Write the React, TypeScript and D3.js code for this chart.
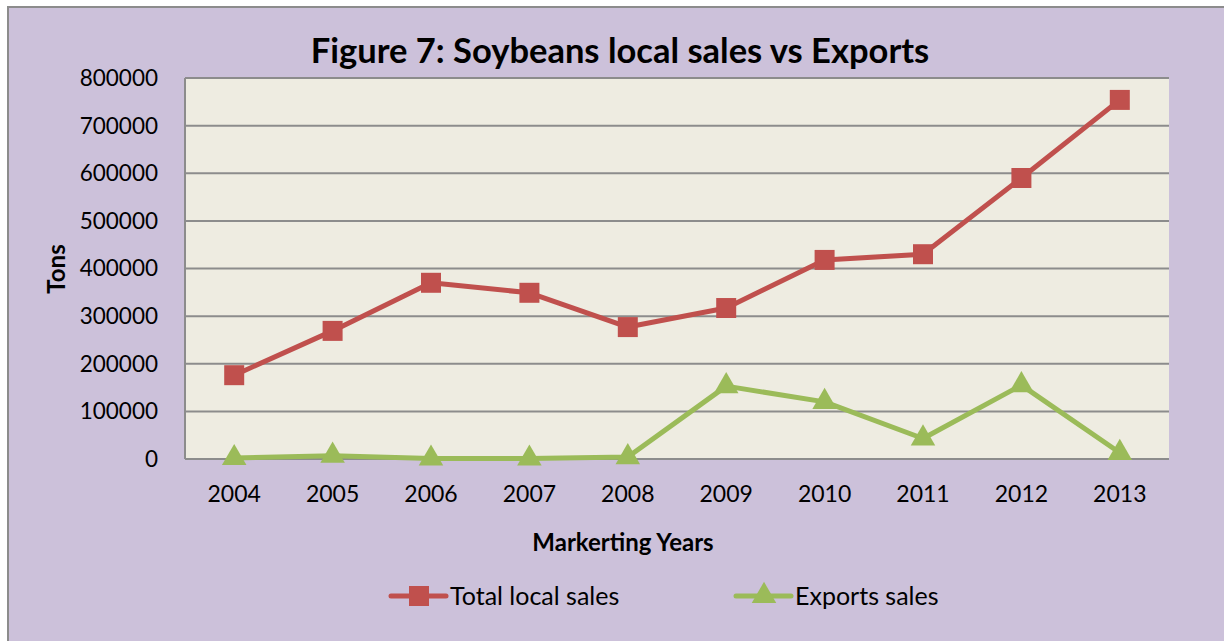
import React, { useEffect, useRef } from 'react';
import * as d3 from 'd3';

const years = ['2004', '2005', '2006', '2007', '2008', '2009', '2010', '2011', '2012', '2013'];
const localSales = [176000, 269000, 370000, 349000, 277000, 317000, 418000, 430000, 590000, 754000];
const exportSales = [2000, 7000, 1000, 1000, 4000, 153000, 120000, 43000, 155000, 13000];
const yTicks = [0, 100000, 200000, 300000, 400000, 500000, 600000, 700000, 800000];

const RED = '#C0504D';
const GREEN = '#9BBB59';
const FONT = 'Lato, "Open Sans", sans-serif';

const App = () => {
  const svgRef = useRef<SVGSVGElement>(null);

  useEffect(() => {
    if (!svgRef.current) return;
    const width = 1224;
    const height = 641;
    const svg = d3.select(svgRef.current);
    svg.selectAll('*').remove();

    // outer frame
    svg.append('rect')
      .attr('x', 8).attr('y', 7)
      .attr('width', width + 10).attr('height', height + 10)
      .attr('fill', '#CCC1DA')
      .attr('stroke', '#8C8C8C')
      .attr('stroke-width', 2);

    const left = 185, right = 1169, top = 78, bottom = 459;

    const x = d3.scaleBand().domain(years).range([left, right]);
    const y = d3.scaleLinear().domain([0, 800000]).range([bottom, top]);

    svg.append('rect')
      .attr('x', left).attr('y', top)
      .attr('width', right - left).attr('height', bottom - top)
      .attr('fill', '#EEECE1');

    // gridlines
    svg.append('g')
      .selectAll('line')
      .data(yTicks)
      .enter()
      .append('line')
      .attr('x1', left).attr('x2', right)
      .attr('y1', d => y(d)).attr('y2', d => y(d))
      .attr('stroke', '#8C8C8C')
      .attr('stroke-width', 2);

    svg.append('line')
      .attr('x1', left).attr('x2', left)
      .attr('y1', top).attr('y2', bottom)
      .attr('stroke', '#8C8C8C')
      .attr('stroke-width', 2);

    // y tick labels
    svg.append('g')
      .selectAll('text')
      .data(yTicks)
      .enter()
      .append('text')
      .attr('x', 158)
      .attr('y', d => y(d))
      .attr('dy', '0.35em')
      .attr('text-anchor', 'end')
      .attr('font-family', FONT)
      .attr('font-size', 22.5)
      .attr('fill', '#000')
      .text(d => String(d));

    // x tick labels
    svg.append('g')
      .selectAll('text')
      .data(years)
      .enter()
      .append('text')
      .attr('x', d => (x(d) as number) + x.bandwidth() / 2)
      .attr('y', 494)
      .attr('dy', '0.35em')
      .attr('text-anchor', 'middle')
      .attr('font-family', FONT)
      .attr('font-size', 23)
      .attr('fill', '#000')
      .text(d => d);

    const cx = (i: number) => (x(years[i]) as number) + x.bandwidth() / 2;

    const line = d3.line<number>()
      .x((d, i) => cx(i))
      .y(d => y(d));

    svg.append('path')
      .datum(localSales)
      .attr('d', line)
      .attr('fill', 'none')
      .attr('stroke', RED)
      .attr('stroke-width', 5)
      .attr('stroke-linejoin', 'round');

    svg.append('path')
      .datum(exportSales)
      .attr('d', line)
      .attr('fill', 'none')
      .attr('stroke', GREEN)
      .attr('stroke-width', 5)
      .attr('stroke-linejoin', 'round');

    const square = d3.symbol().type(d3.symbolSquare).size(400);
    const triangle = d3.symbol().type(d3.symbolTriangle).size(260);

    svg.append('g')
      .selectAll('path')
      .data(localSales)
      .enter()
      .append('path')
      .attr('d', square)
      .attr('transform', (d, i) => `translate(${cx(i)},${y(d)})`)
      .attr('fill', RED);

    svg.append('g')
      .selectAll('path')
      .data(exportSales)
      .enter()
      .append('path')
      .attr('d', triangle)
      .attr('transform', (d, i) => `translate(${cx(i)},${y(d)})`)
      .attr('fill', GREEN);

    // title
    svg.append('text')
      .attr('x', 620).attr('y', 51)
      .attr('dy', '0.35em')
      .attr('text-anchor', 'middle')
      .attr('font-family', FONT)
      .attr('font-weight', 'bold')
      .attr('font-size', 34.5)
      .attr('fill', '#000')
      .text('Figure 7: Soybeans local sales vs Exports');

    // axis titles
    svg.append('text')
      .attr('transform', 'translate(57,269) rotate(-90)')
      .attr('dy', '0.35em')
      .attr('text-anchor', 'middle')
      .attr('font-family', FONT)
      .attr('font-weight', 'bold')
      .attr('font-size', 24)
      .attr('fill', '#000')
      .text('Tons');

    svg.append('text')
      .attr('x', 623).attr('y', 543)
      .attr('dy', '0.35em')
      .attr('text-anchor', 'middle')
      .attr('font-family', FONT)
      .attr('font-weight', 'bold')
      .attr('font-size', 24)
      .attr('fill', '#000')
      .text('Markerting Years');

    // legend
    const legend = [
      { label: 'Total local sales', color: RED, sym: square, x0: 391 },
      { label: 'Exports sales', color: GREEN, sym: triangle, x0: 736 },
    ];
    const lg = svg.append('g');
    legend.forEach(l => {
      lg.append('line')
        .attr('x1', l.x0).attr('x2', l.x0 + 55)
        .attr('y1', 596).attr('y2', 596)
        .attr('stroke', l.color)
        .attr('stroke-width', 5)
        .attr('stroke-linecap', 'round');
      lg.append('path')
        .attr('d', l.sym)
        .attr('transform', `translate(${l.x0 + 28},596)`)
        .attr('fill', l.color);
      lg.append('text')
        .attr('x', l.x0 + 59).attr('y', 596)
        .attr('dy', '0.35em')
        .attr('font-family', FONT)
        .attr('font-size', 25)
        .attr('fill', '#000')
        .text(l.label);
    });
  }, []);

  return (
    <div style={{ position: 'fixed', left: 0, top: 0 }}>
      <svg ref={svgRef} width={1224} height={641} style={{ display: 'block' }}></svg>
    </div>
  );
};

export default App;
